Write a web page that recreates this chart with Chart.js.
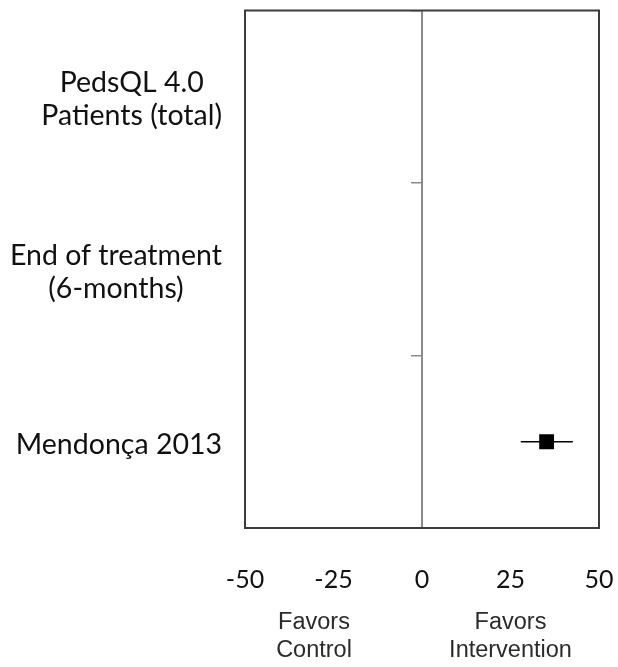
<!DOCTYPE html>
<html>
<head>
<meta charset="utf-8">
<script src="https://cdn.jsdelivr.net/npm/chart.js@4/dist/chart.umd.min.js"></script>
<style>
  html, body { margin: 0; padding: 0; background: #fff; }
  #wrap { width: 618px; height: 667px; }
</style>
</head>
<body>
<div id="wrap"><canvas id="forest"></canvas></div>
<script>
// rows of the forest plot, top to bottom ("\n" = line break)
const categories = ["PedsQL 4.0\nPatients (total)", "End of treatment\n(6-months)", "Mendonça 2013"];

// study estimates (mean difference, 95% CI)
const studyRows = ["Mendonça 2013"];
const effects = [35.2];
const ciLow = [27.9];
const ciHigh = [42.6];

// axis
const xTickLabels = ["-50", "-25", "0", "25", "50"];
const sideLabels = [["Favors", "Control"], ["Favors", "Intervention"]];

// draws the frame and the left row labels
const forestDecor = {
  id: "forestDecor",
  beforeDatasetsDraw(chart) {
    const { ctx, chartArea: a } = chart;
    ctx.save();
    ctx.strokeStyle = "#3c3c3c";
    ctx.lineWidth = 2;
    ctx.strokeRect(a.left, a.top, a.right - a.left, a.bottom - a.top);
    ctx.restore();
  },
  afterDraw(chart) {
    const { ctx, chartArea: a } = chart;
    const y = chart.scales.y;
    const lh = 33;
    ctx.save();
    ctx.font = "28.5px Lato";
    ctx.fillStyle = "#111";
    ctx.textAlign = "center";
    ctx.textBaseline = "middle";
    categories.forEach((c, i) => {
      const lines = c.split("\n");
      const w = Math.max(...lines.map(l => ctx.measureText(l).width));
      const cx = a.left - 23 - w / 2;
      const top = y.getPixelForTick(i) - (lines.length - 1) * lh / 2 + 3;
      lines.forEach((l, j) => ctx.fillText(l, cx, top + j * lh));
    });
    ctx.restore();
  }
};

const ciData = studyRows.map((r, i) => [
  { x: ciLow[i], y: r },
  { x: ciHigh[i], y: r }
]);

new Chart(document.getElementById("forest"), {
  type: "scatter",
  data: {
    datasets: [
      ...ciData.map(d => ({
        data: d,
        showLine: true,
        borderColor: "#000",
        borderWidth: 1.5,
        pointRadius: 0
      })),
      {
        data: studyRows.map((r, i) => ({ x: effects[i], y: r })),
        pointStyle: "rect",
        pointRadius: 10.5,
        backgroundColor: "#000",
        borderColor: "#000",
        borderWidth: 0
      }
    ]
  },
  options: {
    responsive: true,
    maintainAspectRatio: false,
    animation: false,
    layout: { padding: { top: 9, right: 19, left: 0, bottom: 0 } },
    plugins: { legend: { display: false }, tooltip: { enabled: false } },
    scales: {
      x: {
        type: "linear",
        position: "bottom",
        weight: 0,
        min: -50,
        max: 50,
        grid: { display: false, drawTicks: false, tickLength: 0 },
        border: { display: false },
        ticks: {
          stepSize: 25,
          autoSkip: false,
          maxRotation: 0,
          padding: 37,
          color: "#111",
          font: { family: "Lato", size: 25, lineHeight: 1.2 },
          callback: (v, i) => xTickLabels[i]
        },
        afterFit(s) { s.height = 70; s.paddingLeft = 0; s.paddingRight = 0; }
      },
      xSide: {
        type: "linear",
        position: "bottom",
        weight: 1,
        min: -50,
        max: 50,
        grid: { display: false, drawTicks: false, tickLength: 0 },
        border: { display: false },
        afterBuildTicks(s) { s.ticks = [{ value: -30.5 }, { value: 25 }]; },
        ticks: {
          autoSkip: false,
          maxRotation: 0,
          padding: 10,
          color: "#2b2b2b",
          font: { family: "Liberation Sans", size: 23.5, lineHeight: 1.2 },
          callback: (v, i) => sideLabels[i]
        },
        afterFit(s) { s.height = 69; s.paddingLeft = 0; s.paddingRight = 0; }
      },
      y: {
        type: "category",
        labels: categories,
        position: "left",
        offset: true,
        grid: { display: false },
        border: { display: false },
        ticks: { display: false },
        afterFit(s) { s.width = 245; }
      },
      yZero: {
        type: "category",
        labels: categories,
        position: { x: 0 },
        offset: true,
        grid: {
          offset: true,
          drawOnChartArea: false,
          drawTicks: true,
          tickLength: 10,
          color: "#8a8a8a",
          lineWidth: 1.5
        },
        border: { display: true, color: "#8a8a8a", width: 2 },
        ticks: { display: false }
      }
    }
  },
  plugins: [forestDecor]
});
</script>
</body>
</html>
